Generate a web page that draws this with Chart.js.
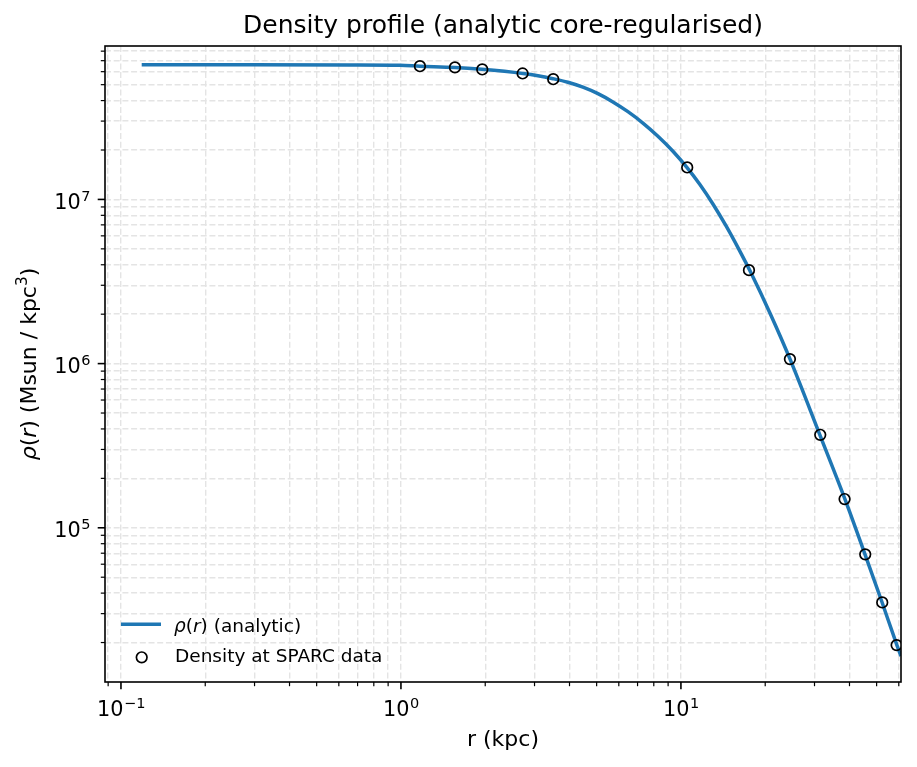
<!DOCTYPE html>
<html>
<head>
<meta charset="utf-8">
<script src="https://cdn.jsdelivr.net/npm/chart.js@4.4.0/dist/chart.umd.min.js"></script>
<style>
  html, body { margin: 0; padding: 0; background: #fff; }
  #wrap { width: 917px; height: 767px; }
</style>
</head>
<body>
<div id="wrap"><canvas id="chart" width="917" height="767"></canvas></div>
<script>
// analytic curve, values
const curveR = [0.1186, 0.289, 0.657, 0.992, 1.169, 1.559, 1.947, 2.727, 3.085, 3.49, 3.948, 4.467, 5.054, 5.716,
  6.467, 7.316, 8.277, 9.364, 10.50, 11.69, 13.01, 14.48, 16.11, 17.93, 20.79, 24.51, 31.37, 38.53, 45.41, 52.24, 59.07, 61.06];
const curveRho = [6.60e7, 6.60e7, 6.59e7, 6.56e7, 6.48e7, 6.37e7, 6.20e7, 5.85e7, 5.673e7, 5.438e7, 5.170e7, 4.824e7, 4.406e7, 3.925e7,
  3.423e7, 2.917e7, 2.424e7, 1.965e7, 1.567e7, 1.232e7, 9.376e6, 6.914e6, 4.960e6, 3.478e6, 2.035e6, 1.068e6, 3.67e5, 1.496e5,
  6.92e4, 3.53e4, 1.93e4, 1.654e4];

// density at the SPARC radii
const sparcR = [1.169, 1.559, 1.952, 2.72, 3.499, 10.53, 17.5, 24.51, 31.45, 38.42, 45.53, 52.36, 58.94];
const sparcRho = [6.48e7, 6.37e7, 6.19e7, 5.85e7, 5.40e7, 1.566e7, 3.71e6, 1.065e6, 3.685e5, 1.496e5, 6.89e4, 3.51e4, 1.93e4];

// axes
const xMin = 0.0877, xMax = 61.1;
const yMin = 1.15e4, yMax = 8.6e7;
const xMajorTicks = [0.1, 1, 10];
const xTickExp = ['\u22121', '0', '1'];
const yMajorTicks = [1e5, 1e6, 1e7];
const yTickExp = ['5', '6', '7'];
const minorMults = [2, 3, 4, 5, 6, 7, 8, 9];

const titleText = 'Density profile (analytic core-regularised)';
const xTitle = 'r (kpc)';
const yTitleParts = [['\u03c1', 'i'], ['(', ''], ['r', 'i'], [') (Msun / kpc', ''], ['3', 's'], [')', '']];
const lineLabelParts = [['\u03c1', 'i'], ['(', ''], ['r', 'i'], [')', ''], [' (analytic)', '']];
const pointLabel = 'Density at SPARC data';

const FONT = '"DejaVu Sans"';
const gridColor = '#e4e4e4';

// all tick positions (majors + minors inside the range)
const buildTicks = (majors, lo, hi) => {
  const out = [];
  const decades = [majors[0] / 10, ...majors];
  decades.forEach(d => {
    if (d >= lo && d <= hi) out.push(d);
    minorMults.forEach(m => {
      const v = d * m;
      if (v >= lo && v <= hi) out.push(v);
    });
  });
  return out.sort((a, b) => a - b);
};
const xTicks = buildTicks(xMajorTicks, xMin, xMax);
const yTicks = buildTicks(yMajorTicks, yMin, yMax);
const isMajor = (list, v) => list.some(m => Math.abs(m - v) / m < 1e-9);

// text with italic / superscript pieces
function drawRich(ctx, parts, x, y, size, align) {
  const fontFor = p => p[1] === 'i' ? `italic ${size}px ${FONT}` : p[1] === 's' ? `${size * 0.7}px ${FONT}` : `${size}px ${FONT}`;
  let total = 0;
  parts.forEach(p => { ctx.font = fontFor(p); total += ctx.measureText(p[0]).width; });
  let cx = align === 'center' ? x - total / 2 : x;
  ctx.textAlign = 'left';
  ctx.textBaseline = 'alphabetic';
  parts.forEach(p => {
    ctx.font = fontFor(p);
    ctx.fillText(p[0], cx, p[1] === 's' ? y - size * 0.4 : y);
    cx += ctx.measureText(p[0]).width;
  });
}

function drawPower(ctx, exp, x, y, align) {
  ctx.font = `20.8px ${FONT}`;
  const w1 = ctx.measureText('10').width;
  ctx.font = `14.5px ${FONT}`;
  const w2 = ctx.measureText(exp).width;
  const left = align === 'center' ? x - (w1 + w2) / 2 : x - (w1 + w2);
  ctx.textAlign = 'left';
  ctx.textBaseline = 'alphabetic';
  ctx.font = `20.8px ${FONT}`;
  ctx.fillText('10', left, y);
  ctx.font = `14.5px ${FONT}`;
  ctx.fillText(exp, left + w1 + 0.5, y - 8);
}

const decor = {
  id: 'decor',
  afterDraw(chart) {
    const { ctx, chartArea: a, scales: { x, y } } = chart;
    ctx.save();
    ctx.fillStyle = '#000';
    ctx.strokeStyle = '#000';

    // frame
    ctx.lineWidth = 1.6;
    ctx.strokeRect(a.left, a.top, a.right - a.left, a.bottom - a.top);

    // tick marks
    xTicks.forEach(v => {
      const px = x.getPixelForValue(v);
      const major = isMajor(xMajorTicks, v);
      ctx.lineWidth = major ? 1.6 : 1.2;
      ctx.beginPath();
      ctx.moveTo(px, a.bottom);
      ctx.lineTo(px, a.bottom + (major ? 7.3 : 4.2));
      ctx.stroke();
    });
    yTicks.forEach(v => {
      const py = y.getPixelForValue(v);
      const major = isMajor(yMajorTicks, v);
      ctx.lineWidth = major ? 1.6 : 1.2;
      ctx.beginPath();
      ctx.moveTo(a.left, py);
      ctx.lineTo(a.left - (major ? 7.3 : 4.2), py);
      ctx.stroke();
    });

    // tick labels
    xMajorTicks.forEach((v, i) => drawPower(ctx, xTickExp[i], x.getPixelForValue(v), 716, 'center'));
    yMajorTicks.forEach((v, i) => drawPower(ctx, yTickExp[i], a.left - 15, y.getPixelForValue(v) + 9.5, 'right'));

    // titles
    const midX = (a.left + a.right) / 2;
    ctx.textAlign = 'center';
    ctx.font = `25px ${FONT}`;
    ctx.fillText(titleText, midX, 33);
    ctx.font = `22px ${FONT}`;
    ctx.fillText(xTitle, midX, 746);

    ctx.save();
    ctx.translate(36, (a.top + a.bottom) / 2);
    ctx.rotate(-Math.PI / 2);
    drawRich(ctx, yTitleParts, 0, 0, 22, 'center');
    ctx.restore();

    // legend
    ctx.strokeStyle = '#1f77b4';
    ctx.lineWidth = 3.5;
    ctx.beginPath();
    ctx.moveTo(121, 624.3);
    ctx.lineTo(161, 624.3);
    ctx.stroke();
    drawRich(ctx, lineLabelParts, 174, 632, 18.5, 'left');

    ctx.strokeStyle = '#000';
    ctx.lineWidth = 1.7;
    ctx.beginPath();
    ctx.arc(141.7, 657.3, 5.3, 0, Math.PI * 2);
    ctx.stroke();
    ctx.font = `18.5px ${FONT}`;
    ctx.textAlign = 'left';
    ctx.fillText(pointLabel, 175, 662);

    ctx.restore();
  }
};

const axisCommon = {
  type: 'logarithmic',
  bounds: 'data',
  ticks: { display: false },
  grid: { color: gridColor, lineWidth: 1.4, drawTicks: false },
  border: { display: false, dash: [6, 2.7] }
};

new Chart(document.getElementById('chart'), {
  type: 'line',
  data: {
    datasets: [
      {
        type: 'scatter',
        label: pointLabel,
        data: sparcR.map((r, i) => ({ x: r, y: sparcRho[i] })),
        borderColor: '#000',
        backgroundColor: 'rgba(0,0,0,0)',
        pointRadius: 5.3,
        pointHoverRadius: 5.3,
        borderWidth: 1.7,
        showLine: false,
        clip: 0,
        order: 1
      },
      {
        label: '\u03c1(r) (analytic)',
        data: curveR.map((r, i) => ({ x: r, y: curveRho[i] })),
        borderColor: '#1f77b4',
        borderWidth: 3.5,
        pointRadius: 0,
        cubicInterpolationMode: 'monotone',
        fill: false,
        clip: 0,
        order: 2
      }
    ]
  },
  options: {
    responsive: false,
    animation: false,
    events: [],
    layout: { padding: { left: 0, right: 16, top: 46, bottom: 0 } },
    plugins: { legend: { display: false }, title: { display: false }, tooltip: { enabled: false } },
    scales: {
      x: {
        ...axisCommon,
        min: xMin,
        max: xMax,
        afterBuildTicks: s => { s.ticks = xTicks.map(v => ({ value: v })); },
        afterFit: s => { s.height = 85; }
      },
      y: {
        ...axisCommon,
        min: yMin,
        max: yMax,
        afterBuildTicks: s => { s.ticks = yTicks.map(v => ({ value: v })); },
        afterFit: s => { s.width = 105; }
      }
    }
  },
  plugins: [decor]
});
</script>
</body>
</html>
